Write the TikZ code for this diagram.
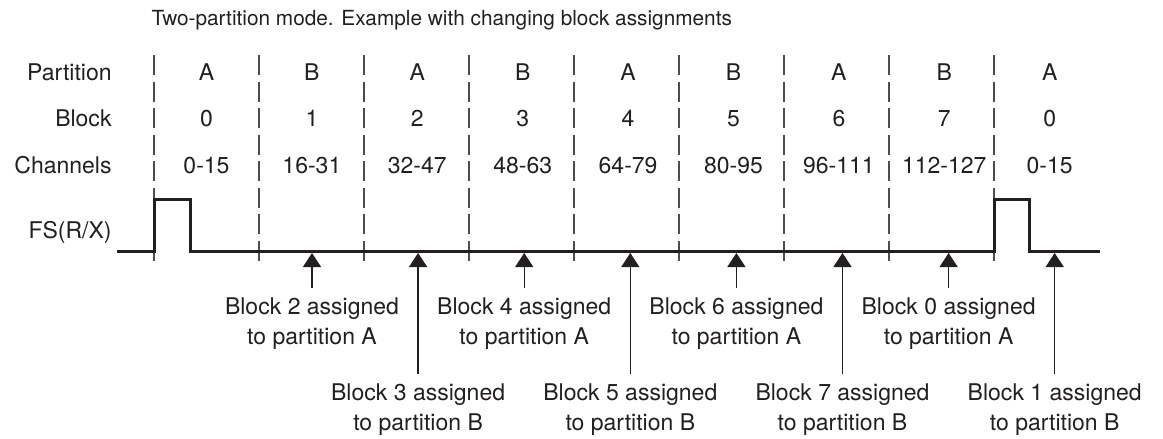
\documentclass[tikz,border=0pt]{standalone}
\usepackage{fontspec}
\setmainfont{TeX Gyre Heros}
\usepackage{tikz}
\usetikzlibrary{arrows.meta,positioning}
\definecolor{inkblack}{HTML}{231F20}
\definecolor{gridgray}{HTML}{4D4D4D}
\begin{document}
\begin{tikzpicture}[
  x=1pt, y=-1pt,
  font=\fontsize{23}{30}\selectfont,
  cell/.style={
    minimum width=105pt,
    minimum height=46pt,
    inner sep=0pt,
    text height=16.5pt,
    text depth=0pt,
    text=inkblack
  },
  rowlabel/.style={
    inner sep=0pt,
    text height=16.5pt,
    text depth=0pt,
    text=inkblack
  },
  divider/.style={
    draw=gridgray,
    line width=1.3pt,
    dash pattern=on 20pt off 6.5pt
  },
  signal/.style={
    draw=inkblack,
    line width=3pt,
    line join=miter
  },
  assignlabel/.style={
    align=center,
    inner xsep=0pt,
    inner ysep=10pt,
    anchor=north,
    text=inkblack
  },
  assignarrow/.style={
    -{Triangle[width=18pt,length=14pt]},
    line width=1.3pt,
    draw=inkblack
  }
]
  \useasboundingbox (0,0) rectangle (1163,439);

  % Title
  \node[font=\fontsize{20.8}{24}\selectfont, text=inkblack, anchor=base west] (title) at (148,25)
    {Two-partition mode. Example with changing block assignments};

  % --- PARTITION ROW ---
  \node[cell] (p0) at (206.5,72) {A};
  \node[cell, right=0pt of p0] (p1) {B};
  \node[cell, right=0pt of p1] (p2) {A};
  \node[cell, right=0pt of p2] (p3) {B};
  \node[cell, right=0pt of p3] (p4) {A};
  \node[cell, right=0pt of p4] (p5) {B};
  \node[cell, right=0pt of p5] (p6) {A};
  \node[cell, right=0pt of p6] (p7) {B};
  \node[cell, right=0pt of p7] (p8) {A};

  % --- BLOCK ROW ---
  \node[cell, below=0pt of p0] (b0) {0};
  \node[cell, right=0pt of b0] (b1) {1};
  \node[cell, right=0pt of b1] (b2) {2};
  \node[cell, right=0pt of b2] (b3) {3};
  \node[cell, right=0pt of b3] (b4) {4};
  \node[cell, right=0pt of b4] (b5) {5};
  \node[cell, right=0pt of b5] (b6) {6};
  \node[cell, right=0pt of b6] (b7) {7};
  \node[cell, right=0pt of b7] (b8) {0};

  % --- CHANNELS ROW ---
  \node[cell, below=0pt of b0] (c0) {0-15};
  \node[cell, right=0pt of c0] (c1) {16-31};
  \node[cell, right=0pt of c1] (c2) {32-47};
  \node[cell, right=0pt of c2] (c3) {48-63};
  \node[cell, right=0pt of c3] (c4) {64-79};
  \node[cell, right=0pt of c4] (c5) {80-95};
  \node[cell, right=0pt of c5] (c6) {96-111};
  \node[cell, right=0pt of c6] (c7) {112-127};
  \node[cell, right=0pt of c7] (c8) {0-15};

  % Row labels
  \node[rowlabel, left=42pt of p0] (lp) {Partition};
  \node[rowlabel, left=42pt of b0] (lb) {Block};
  \node[rowlabel, left=42pt of c0] (lc) {Channels};
  \node[rowlabel, below=48.5pt of lc.south east, anchor=north east] (lf) {FS(R/X)};

  % Block boundaries
  \foreach \x in {154,259,...,994}
    \draw[divider] (\x,55) -- (\x,263);

  % Frame sync waveform
  \draw[signal] (117,251) -- (154,251) -- (154,199) -- (190.5,199) -- (190.5,251)
    -- (994,251) -- (994,199) -- (1029.5,199) -- (1029.5,251) -- (1100,251);

  % --- ASSIGNMENT POINTS ---
  \coordinate (tip2) at (312,253);
  \coordinate (tip3) at (418.1,253);
  \coordinate (tip4) at (524.2,253);
  \coordinate (tip5) at (630.3,253);
  \coordinate (tip6) at (736.4,253);
  \coordinate (tip7) at (842.5,253);
  \coordinate (tip0) at (948.6,253);
  \coordinate (tip1) at (1054.7,253);

  % Upper labels (partition A)
  \node[assignlabel] (asg2) at (312,288) {Block 2 assigned\\to partition A};
  \node[assignlabel] (asg4) at (524.2,288) {Block 4 assigned\\to partition A};
  \node[assignlabel] (asg6) at (736.4,288) {Block 6 assigned\\to partition A};
  \node[assignlabel] (asg0) at (948.6,288) {Block 0 assigned\\to partition A};

  % Lower labels (partition B)
  \node[assignlabel] (asg3) at (418.1,374) {Block 3 assigned\\to partition B};
  \node[assignlabel] (asg5) at (630.3,374) {Block 5 assigned\\to partition B};
  \node[assignlabel] (asg7) at (842.5,374) {Block 7 assigned\\to partition B};
  \node[assignlabel] (asg1) at (1054.7,374) {Block 1 assigned\\to partition B};

  % Arrows up to the waveform
  \draw[assignarrow] (asg2) -- (tip2);
  \draw[assignarrow] (asg3) -- (tip3);
  \draw[assignarrow] (asg4) -- (tip4);
  \draw[assignarrow] (asg5) -- (tip5);
  \draw[assignarrow] (asg6) -- (tip6);
  \draw[assignarrow] (asg7) -- (tip7);
  \draw[assignarrow] (asg0) -- (tip0);
  \draw[assignarrow] (asg1) -- (tip1);

\end{tikzpicture}
\end{document}
